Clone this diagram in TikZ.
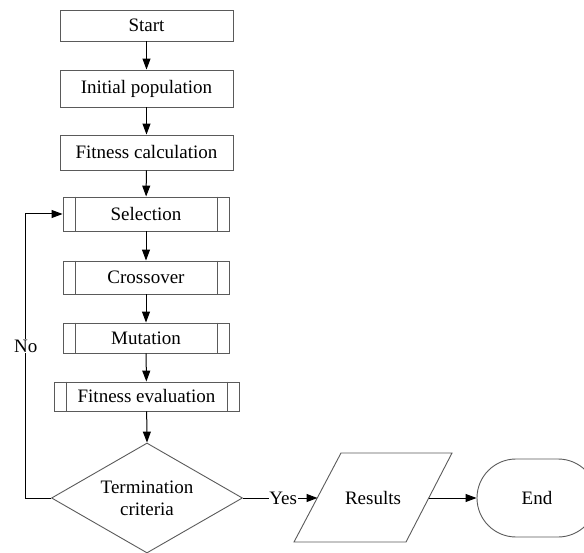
\documentclass[tikz,border=0pt]{standalone}
\usepackage{fontspec}
\setmainfont{Liberation Serif}
\usetikzlibrary{shapes.geometric,arrows.meta}
\definecolor{bordergray}{HTML}{5A5A5A}
\tikzset{
  every node/.style={font=\fontsize{19}{22}\selectfont},
  procbox/.style={draw=bordergray, line width=0.9pt, rectangle, inner sep=0pt, minimum width=173pt, align=center},
  subbox/.style={draw=bordergray, line width=0.9pt, rectangle, inner sep=0pt, align=center},
  decision/.style={draw=bordergray, line width=0.9pt, diamond, shape aspect=1.74, inner sep=0pt, minimum width=191pt, minimum height=110pt, align=center},
  terminal/.style={draw=bordergray, line width=0.9pt, rectangle, rounded corners=39pt, minimum width=120pt, minimum height=78pt, inner sep=0pt},
  flow/.style={line width=1pt, -{Triangle[length=11pt,width=8pt]}},
  plainline/.style={line width=1pt},
}
\begin{document}
\begin{tikzpicture}[x=1pt,y=-1pt]
\useasboundingbox (0,0) rectangle (584,553);
\node[procbox, minimum height=31pt] (start) at (146.5,25.5) {Start};
\node[procbox, minimum height=37pt] (init) at (146.5,88.5) {Initial population};
\node[procbox, minimum height=35pt] (fitc) at (146.5,152.5) {Fitness calculation};
\node[subbox, minimum width=166pt, minimum height=34pt] (sel) at (146,214) {Selection};
\node[subbox, minimum width=166pt, minimum height=33pt] (cro) at (146,277.5) {Crossover};
\node[subbox, minimum width=166pt, minimum height=30pt] (mut) at (146,338) {Mutation};
\node[subbox, minimum width=185pt, minimum height=29pt] (fite) at (146.5,396.5) {Fitness evaluation};
% inner vertical lines of predefined-process boxes
\foreach \n in {sel,cro,mut}{
  \draw[draw=bordergray, line width=0.9pt] ([xshift=13pt]\n.north west) -- ([xshift=13pt]\n.south west);
  \draw[draw=bordergray, line width=0.9pt] ([xshift=-12pt]\n.north east) -- ([xshift=-12pt]\n.south east);
}
\draw[draw=bordergray, line width=0.9pt] ([xshift=13pt]fite.north west) -- ([xshift=13pt]fite.south west);
\draw[draw=bordergray, line width=0.9pt] ([xshift=-12pt]fite.north east) -- ([xshift=-12pt]fite.south east);
\node[decision] (term) at (147,498) {Termination\\criteria};
% Results parallelogram
\node (res) at (373,498) {Results};
\coordinate (resTL) at (341,453);
\coordinate (resTR) at (452,453);
\coordinate (resBR) at (406,542);
\coordinate (resBL) at (294,542);
\draw[draw=bordergray, line width=0.9pt] (resTL) -- (resTR) -- (resBR) -- (resBL) -- cycle;
\coordinate (resL) at (317.5,498);
\coordinate (resR) at (429,498);
\node[terminal] (end) at (537,498) {End};
% connectors
\draw[flow] (start) -- (init);
\draw[flow] (init) -- (fitc);
\draw[flow] (fitc) -- (sel);
\draw[flow] (sel) -- (cro);
\draw[flow] (cro) -- (mut);
\draw[flow] (mut) -- (fite);
\draw[flow] (fite) -- (term.north);
\coordinate (loopB) at (25.7,498);
\coordinate (loopT) at (25.7,214);
\draw[flow] (term.west) -- (loopB) -- node[fill=white, inner sep=1pt, pos=0.535] {No} (loopT) -- (sel.west);
\draw[flow] (term.east) -- node[fill=white, inner sep=0.5pt, pos=0.54] {Yes} (resL);
\draw[flow] (resR) -- (end.west);
\end{tikzpicture}
\end{document}
